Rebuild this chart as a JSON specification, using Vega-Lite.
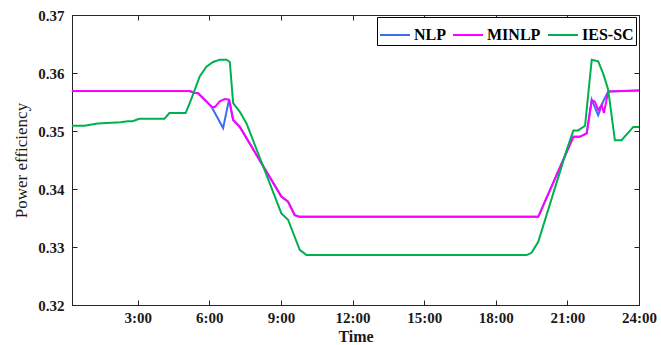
{
  "$schema": "https://vega.github.io/schema/vega-lite/v6.json",
  "width": 567,
  "height": 290,
  "autosize": {"type": "none"},
  "padding": {"left": 72, "top": 15, "right": 22, "bottom": 40},
  "background": "white",
  "config": {
    "view": {"stroke": "#262626", "strokeWidth": 1},
    "font": "Liberation Serif",
    "axis": {
      "labelFont": "Liberation Serif",
      "labelFontWeight": "bold",
      "labelFontSize": 15,
      "labelColor": "#1a1a1a",
      "titleFont": "Liberation Serif",
      "titleColor": "#1a1a1a",
      "grid": false,
      "domainColor": "#262626",
      "tickColor": "#262626",
      "tickSize": -5,
      "tickWidth": 1,
      "labelPadding": 13,
      "labelFlush": false
    }
  },
  "datasets": {
    "d": [
      {"s": "NLP", "t": 0.25, "v": 0.3569},
      {"s": "NLP", "t": 5.17, "v": 0.3569},
      {"s": "NLP", "t": 5.38, "v": 0.3566},
      {"s": "NLP", "t": 5.53, "v": 0.3565},
      {"s": "NLP", "t": 5.88, "v": 0.3551},
      {"s": "NLP", "t": 6.09, "v": 0.3542},
      {"s": "NLP", "t": 6.58, "v": 0.3505},
      {"s": "NLP", "t": 6.83, "v": 0.3555},
      {"s": "NLP", "t": 7.0, "v": 0.3519},
      {"s": "NLP", "t": 7.28, "v": 0.3507},
      {"s": "NLP", "t": 9.02, "v": 0.3387},
      {"s": "NLP", "t": 9.3, "v": 0.3378},
      {"s": "NLP", "t": 9.58, "v": 0.3355},
      {"s": "NLP", "t": 9.79, "v": 0.3352},
      {"s": "NLP", "t": 19.78, "v": 0.3352},
      {"s": "NLP", "t": 21.25, "v": 0.349},
      {"s": "NLP", "t": 21.52, "v": 0.349},
      {"s": "NLP", "t": 21.81, "v": 0.3496},
      {"s": "NLP", "t": 22.02, "v": 0.3554},
      {"s": "NLP", "t": 22.29, "v": 0.3527},
      {"s": "NLP", "t": 22.5, "v": 0.3551},
      {"s": "NLP", "t": 22.71, "v": 0.3568},
      {"s": "NLP", "t": 24, "v": 0.357},
      {"s": "MINLP", "t": 0.25, "v": 0.3569},
      {"s": "MINLP", "t": 5.17, "v": 0.3569},
      {"s": "MINLP", "t": 5.38, "v": 0.3566},
      {"s": "MINLP", "t": 5.53, "v": 0.3565},
      {"s": "MINLP", "t": 5.88, "v": 0.3551},
      {"s": "MINLP", "t": 6.09, "v": 0.3542},
      {"s": "MINLP", "t": 6.23, "v": 0.3541},
      {"s": "MINLP", "t": 6.44, "v": 0.3551},
      {"s": "MINLP", "t": 6.65, "v": 0.3555},
      {"s": "MINLP", "t": 6.83, "v": 0.3554},
      {"s": "MINLP", "t": 7.0, "v": 0.3519},
      {"s": "MINLP", "t": 7.28, "v": 0.3507},
      {"s": "MINLP", "t": 9.02, "v": 0.3387},
      {"s": "MINLP", "t": 9.3, "v": 0.3378},
      {"s": "MINLP", "t": 9.58, "v": 0.3355},
      {"s": "MINLP", "t": 9.79, "v": 0.3352},
      {"s": "MINLP", "t": 19.78, "v": 0.3352},
      {"s": "MINLP", "t": 21.25, "v": 0.349},
      {"s": "MINLP", "t": 21.52, "v": 0.349},
      {"s": "MINLP", "t": 21.81, "v": 0.3496},
      {"s": "MINLP", "t": 22.02, "v": 0.3553},
      {"s": "MINLP", "t": 22.15, "v": 0.3551},
      {"s": "MINLP", "t": 22.29, "v": 0.3536},
      {"s": "MINLP", "t": 22.43, "v": 0.3545},
      {"s": "MINLP", "t": 22.53, "v": 0.3531},
      {"s": "MINLP", "t": 22.71, "v": 0.3568},
      {"s": "MINLP", "t": 24, "v": 0.357},
      {"s": "IES-SC", "t": 0.25, "v": 0.3509},
      {"s": "IES-SC", "t": 0.77, "v": 0.3509},
      {"s": "IES-SC", "t": 1.32, "v": 0.3513},
      {"s": "IES-SC", "t": 2.29, "v": 0.3515},
      {"s": "IES-SC", "t": 2.58, "v": 0.3517},
      {"s": "IES-SC", "t": 2.79, "v": 0.3517},
      {"s": "IES-SC", "t": 3.07, "v": 0.3521},
      {"s": "IES-SC", "t": 4.12, "v": 0.3521},
      {"s": "IES-SC", "t": 4.33, "v": 0.3531},
      {"s": "IES-SC", "t": 5.01, "v": 0.3531},
      {"s": "IES-SC", "t": 5.18, "v": 0.3548},
      {"s": "IES-SC", "t": 5.39, "v": 0.3571},
      {"s": "IES-SC", "t": 5.6, "v": 0.3594},
      {"s": "IES-SC", "t": 5.88, "v": 0.3611},
      {"s": "IES-SC", "t": 6.16, "v": 0.3619},
      {"s": "IES-SC", "t": 6.44, "v": 0.3623},
      {"s": "IES-SC", "t": 6.72, "v": 0.3623},
      {"s": "IES-SC", "t": 6.86, "v": 0.3619},
      {"s": "IES-SC", "t": 7.0, "v": 0.3548},
      {"s": "IES-SC", "t": 7.28, "v": 0.3533},
      {"s": "IES-SC", "t": 7.56, "v": 0.3513},
      {"s": "IES-SC", "t": 9.02, "v": 0.3358},
      {"s": "IES-SC", "t": 9.3, "v": 0.3347},
      {"s": "IES-SC", "t": 9.79, "v": 0.3295},
      {"s": "IES-SC", "t": 10.07, "v": 0.3286},
      {"s": "IES-SC", "t": 19.29, "v": 0.3286},
      {"s": "IES-SC", "t": 19.5, "v": 0.329},
      {"s": "IES-SC", "t": 19.78, "v": 0.3309},
      {"s": "IES-SC", "t": 20.97, "v": 0.3467},
      {"s": "IES-SC", "t": 21.25, "v": 0.3501},
      {"s": "IES-SC", "t": 21.45, "v": 0.3501},
      {"s": "IES-SC", "t": 21.74, "v": 0.3509},
      {"s": "IES-SC", "t": 22.02, "v": 0.3623},
      {"s": "IES-SC", "t": 22.29, "v": 0.362},
      {"s": "IES-SC", "t": 22.5, "v": 0.3599},
      {"s": "IES-SC", "t": 22.71, "v": 0.3571},
      {"s": "IES-SC", "t": 22.99, "v": 0.3484},
      {"s": "IES-SC", "t": 23.27, "v": 0.3484},
      {"s": "IES-SC", "t": 23.76, "v": 0.3507},
      {"s": "IES-SC", "t": 24, "v": 0.3507}
    ]
  },
  "data": {"name": "d"},
  "layer": [
    {
      "transform": [{"filter": "datum.s === 'NLP'"}],
      "mark": {"type": "line", "strokeWidth": 2},
      "encoding": {
        "x": {
          "field": "t", "type": "quantitative",
          "scale": {"domain": [0.25, 24], "nice": false, "zero": false},
          "axis": {
            "orient": "bottom", "title": "Time", "titleFontSize": 16, "titleFontWeight": "bold",
            "titlePadding": 3, "labelPadding": 10, "values": [3, 6, 9, 12, 15, 18, 21, 24],
            "labelExpr": "datum.value + ':00'"
          }
        },
        "y": {
          "field": "v", "type": "quantitative",
          "scale": {"domain": [0.32, 0.37], "nice": false, "zero": false},
          "axis": {
            "orient": "left", "title": "Power efficiency", "titleFontSize": 17, "titleFontWeight": "normal",
            "titlePadding": 7, "values": [0.32, 0.33, 0.34, 0.35, 0.36, 0.37], "format": ".2f"
          }
        },
        "color": {
          "field": "s", "type": "nominal",
          "scale": {"domain": ["NLP", "MINLP", "IES-SC"], "range": ["#3a6ef0", "#ff00ff", "#00b050"]},
          "legend": {
            "orient": "none", "legendX": 305, "legendY": 2, "direction": "horizontal", "title": null,
            "strokeColor": "black", "fillColor": "white", "padding": 2,
            "labelFont": "Liberation Serif", "labelFontSize": 16, "labelFontWeight": "bold", "labelColor": "black",
            "symbolType": "stroke", "symbolSize": 900, "symbolStrokeWidth": 2,
            "labelOffset": 3, "columnPadding": 3
          }
        }
      }
    },
    {
      "transform": [{"filter": "datum.s === 'MINLP'"}],
      "mark": {"type": "line", "strokeWidth": 2},
      "encoding": {
        "x": {"field": "t", "type": "quantitative", "axis": null},
        "y": {"field": "v", "type": "quantitative", "axis": null},
        "color": {"field": "s", "type": "nominal"}
      }
    },
    {
      "transform": [{"filter": "datum.s === 'IES-SC'"}],
      "mark": {"type": "line", "strokeWidth": 2},
      "encoding": {
        "x": {"field": "t", "type": "quantitative",
          "axis": {"orient": "top", "labels": false, "title": null, "values": [3, 6, 9, 12, 15, 18, 21, 24]}},
        "y": {"field": "v", "type": "quantitative",
          "axis": {"orient": "right", "labels": false, "title": null, "values": [0.32, 0.33, 0.34, 0.35, 0.36, 0.37]}},
        "color": {"field": "s", "type": "nominal"}
      }
    }
  ],
  "resolve": {"axis": {"x": "independent", "y": "independent"}}
}
